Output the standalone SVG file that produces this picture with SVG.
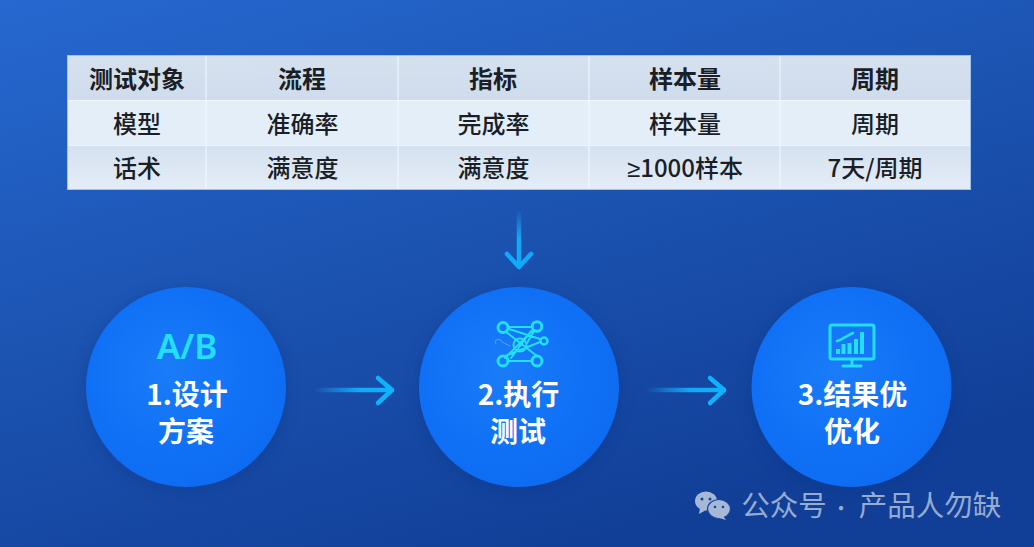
<svg xmlns="http://www.w3.org/2000/svg" width="1034" height="547" viewBox="0 0 1034 547">
<style>
text{font-family:"Noto Sans CJK SC","Noto Sans",sans-serif;text-anchor:middle}
.h{font-size:24px;font-weight:700;fill:#1a1e26}
.c{font-size:24px;font-weight:500;fill:#1a1e26}
.t{font-size:28px;font-weight:700;fill:#fff}
.w{font-size:28.500px;font-weight:400;fill:#96abd0}
.cy{fill:none;stroke:#22e0f8;stroke-linecap:round;stroke-linejoin:round}
.sep{stroke:#f4f8fd;stroke-width:1.200;opacity:.85}
.arrow{fill:none;stroke-width:4.500;stroke-linecap:round;stroke-linejoin:round}
</style>
<defs>
<linearGradient id="bg" x1="0" y1="0" x2="0.55" y2="1"><stop offset="0" stop-color="#2668d0"/><stop offset=".5" stop-color="#1c54b2"/><stop offset="1" stop-color="#113f98"/></linearGradient>
<radialGradient id="circ" cx=".42" cy=".42" r=".6"><stop offset="0" stop-color="#1a7cf8"/><stop offset=".7" stop-color="#0f70f6"/><stop offset="1" stop-color="#0e6cf2"/></radialGradient>
<linearGradient id="hd" x1="0" y1="0" x2="0" y2="1"><stop offset="0" stop-color="#d6e1ef"/><stop offset="1" stop-color="#cfdcec"/></linearGradient>
<linearGradient id="r3" x1="0" y1="0" x2="0" y2="1"><stop offset="0" stop-color="#d5e1f0"/><stop offset="1" stop-color="#e4edf7"/></linearGradient>
<linearGradient id="ah" gradientUnits="userSpaceOnUse" x1="314" y1="0" x2="394" y2="0"><stop offset="0" stop-color="#14a6f5" stop-opacity="0"/><stop offset=".55" stop-color="#14a8f6"/><stop offset="1" stop-color="#10b2fb"/></linearGradient>
<linearGradient id="ah2" gradientUnits="userSpaceOnUse" x1="646" y1="0" x2="726" y2="0"><stop offset="0" stop-color="#14a6f5" stop-opacity="0"/><stop offset=".55" stop-color="#14a8f6"/><stop offset="1" stop-color="#10b2fb"/></linearGradient>
<linearGradient id="av" gradientUnits="userSpaceOnUse" x1="0" y1="210" x2="0" y2="268"><stop offset="0" stop-color="#14a6f5" stop-opacity="0"/><stop offset=".5" stop-color="#14a8f6"/><stop offset="1" stop-color="#10aaf8"/></linearGradient>
<filter id="sh" x="-20%" y="-20%" width="140%" height="140%"><feGaussianBlur stdDeviation="8"/></filter>
</defs>
<rect id="background" width="1034" height="547" fill="url(#bg)"/>

<g id="table">
<rect x="67" y="55" width="904" height="135" fill="#e2ecf7"/>
<rect x="67" y="55" width="904" height="45" fill="url(#hd)"/>
<rect x="67" y="100" width="904" height="45" fill="#e4eef9"/>
<rect x="67" y="145" width="904" height="45" fill="url(#r3)"/>
<rect x="67.500" y="55.500" width="903" height="134" fill="none" stroke="#9fc3ef" stroke-width="1"/>
<path class="sep" d="M206 56V189M398 56V189M589 56V189M780 56V189M68 100.500H970M68 145.500H970"/>
<text class="h" x="137" y="88">测试对象</text><text class="h" x="302" y="88">流程</text><text class="h" x="493" y="88">指标</text><text class="h" x="685" y="88">样本量</text><text class="h" x="875" y="88">周期</text>
<text class="c" x="137" y="133">模型</text><text class="c" x="302.500" y="133">准确率</text><text class="c" x="493.500" y="133">完成率</text><text class="c" x="685" y="133">样本量</text><text class="c" x="875" y="133">周期</text>
<text class="c" x="137" y="177">话术</text><text class="c" x="302.500" y="177">满意度</text><text class="c" x="493.500" y="177">满意度</text><text class="c" x="685" y="177"><tspan style="font-family:'Liberation Sans',sans-serif">≥</tspan>1000样本</text><text class="c" x="875" y="177">7天/周期</text>
</g>

<g id="connectors">
<path class="arrow" stroke="url(#av)" d="M519 210V266"/><path class="arrow" stroke="#10aaf8" d="M507 254L519 267L531 254"/>
<path class="arrow" stroke="url(#ah)" d="M314 390H392"/><path class="arrow" stroke="#10b2fb" d="M378 378L392 390L378 403"/>
<path class="arrow" stroke="url(#ah2)" d="M646 390H724"/><path class="arrow" stroke="#10b2fb" d="M710 378L724 390L710 403"/>
</g>

<g id="node1">
<circle cx="186" cy="390" r="100" fill="#0b2f80" opacity=".35" filter="url(#sh)"/>
<circle cx="186" cy="387" r="100" fill="url(#circ)"/>
<text x="187" y="359" font-size="35" font-weight="600" style="font-family:'Noto Sans',sans-serif" fill="#22e0f8">A/B</text>
<text class="t" x="187" y="405">1.设计</text><text class="t" x="186" y="442">方案</text>
</g>

<g id="node2">
<circle cx="519" cy="390" r="100" fill="#0b2f80" opacity=".35" filter="url(#sh)"/>
<circle cx="519" cy="387" r="100" fill="url(#circ)"/>
<g class="cy" stroke-width="2">
<path d="M508 327H532M506 332L537 356M531 331L511 358M508 361H532M505 356L540 342M509 329L540 339M505 358L532 331M534 331L527 343"/>
<circle cx="520" cy="345" r="6.500"/>
<circle cx="503" cy="327.500" r="5" stroke-width="3"/><circle cx="537" cy="326.500" r="4.800" stroke-width="3"/><circle cx="544" cy="341" r="3.500" stroke-width="2.500"/><circle cx="503" cy="361" r="5" stroke-width="3"/><circle cx="537" cy="361" r="5" stroke-width="3"/>
<path d="M496 344C493 339 500 338 502 342L510 346" stroke="#4fa6ee" stroke-width="1.200" opacity=".8"/>
</g>
<text class="t" x="518.500" y="405">2.执行</text><text class="t" x="518" y="442">测试</text>
</g>

<g id="node3">
<circle cx="851" cy="390" r="100" fill="#0b2f80" opacity=".35" filter="url(#sh)"/>
<circle cx="851.500" cy="387" r="100" fill="url(#circ)"/>
<g class="cy">
<rect x="830" y="325" width="44" height="34" rx="2" stroke-width="3"/>
<path d="M852 360V366M843 366H861" stroke-width="3"/>
<path d="M837 341C842 340 846 336 853 333" stroke-width="2.500"/>
<path d="M838 354V349M843.500 354V344M849.500 354V343M856 354V339M862 354V332" stroke-width="4" stroke-linecap="butt"/>
</g>
<text class="t" x="852.500" y="405">3.结果优</text><text class="t" x="852" y="442">优化</text>
</g>

<g id="watermark">
<ellipse cx="706" cy="501" rx="11" ry="9.500" fill="#a6b8d6"/><path d="M700 508L699 514L706 510Z" fill="#a6b8d6"/>
<ellipse cx="719" cy="509" rx="11.500" ry="9.500" fill="#a6b8d6" stroke="#15449c" stroke-width="1.200"/><path d="M723 516L726 520L716 517Z" fill="#a6b8d6"/>
<circle cx="702" cy="499" r="1.500" fill="#15449c"/><circle cx="710" cy="499" r="1.500" fill="#15449c"/><circle cx="715" cy="507" r="1.300" fill="#15449c"/><circle cx="723" cy="507" r="1.300" fill="#15449c"/>
<text class="w" x="784" y="516">公众号</text><text class="w" x="841" y="516" style="font-size:20px">·</text><text class="w" x="930" y="516">产品人勿缺</text>
</g>
</svg>
